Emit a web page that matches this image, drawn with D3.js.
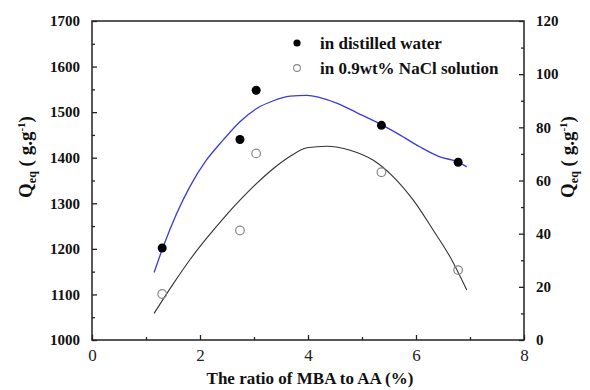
<!DOCTYPE html>
<html><head><meta charset="utf-8">
<script src="https://cdn.jsdelivr.net/npm/d3@7"></script>
<style>
body{margin:0;background:#fff;}
svg text{font-family:"Liberation Serif","DejaVu Serif",serif !important;}
</style></head>
<body><svg id="c" width="590" height="390" font-family="Liberation Serif, serif"></svg>
<script>
// data
const ratio = [1.3, 2.74, 3.04, 5.36, 6.78];
const waterQ = [1202, 1440, 1548, 1471, 1390];
const salineQ = [17.3, 41.2, 70.2, 63.1, 26.3];
// fitted curves
const waterFitX = [1.15,1.32,1.57,1.81,2.12,2.43,2.74,3.05,3.36,3.67,3.98,4.22,4.53,4.90,5.35,5.70,6.07,6.44,6.77,6.94];
const waterFitY = [1148,1205,1278,1336,1395,1439,1479,1508,1525,1535,1537,1532,1520,1499,1473,1450,1424,1402,1391,1380];
const salineFitX = [1.15,1.51,1.81,2.12,2.43,2.74,3.05,3.36,3.67,3.98,4.35,4.78,5.21,5.58,5.95,6.32,6.63,6.94];
const salineFitY = [10.0,21.3,30.1,38.2,45.7,52.6,58.9,64.5,69.1,72.3,72.9,71.4,67.6,61.4,52.6,41.3,31.3,18.8];
const xTicks = [0,2,4,6,8];
const leftTicks = [1000,1100,1200,1300,1400,1500,1600,1700];
const rightTicks = [0,20,40,60,80,100,120];
const legendLabels = ["in distilled water","in 0.9wt% NaCl solution"];

const FONT = "Liberation Serif, DejaVu Serif, serif";
const svg = d3.select("#c");
const L=92, R=524, T=21, B=340;
const x = d3.scaleLinear().domain([0,8]).range([L,R]);
const yL = d3.scaleLinear().domain([1000,1700]).range([B,T]);
const yR = d3.scaleLinear().domain([0,120]).range([B,T]);

function styleAxis(g){
  g.attr("font-family",FONT);
  g.select(".domain").remove();
  g.selectAll("line").attr("stroke","#222").attr("stroke-width",1.3);
}
// minor ticks
svg.append("g").attr("transform",`translate(0,${B})`)
  .call(d3.axisBottom(x).tickValues([1,3,5,7]).tickSize(-3).tickFormat(""))
  .call(styleAxis);
svg.append("g").attr("transform",`translate(${L},0)`)
  .call(d3.axisLeft(yL).tickValues(d3.range(1050,1700,100)).tickSize(-3).tickFormat(""))
  .call(styleAxis);
svg.append("g").attr("transform",`translate(${R},0)`)
  .call(d3.axisRight(yR).tickValues(d3.range(10,120,20)).tickSize(-3).tickFormat(""))
  .call(styleAxis);
// major ticks
const gx = svg.append("g").attr("transform",`translate(0,${B})`)
  .call(d3.axisBottom(x).tickValues(xTicks).tickSize(-5).tickPadding(10).tickFormat(d3.format("d")))
  .call(styleAxis);
gx.selectAll("text").attr("font-size",17).attr("fill","#222").attr("dy","0.75em").attr("y",8);
const gl = svg.append("g").attr("transform",`translate(${L},0)`)
  .call(d3.axisLeft(yL).tickValues(leftTicks).tickSize(-5).tickPadding(12).tickFormat(d3.format("d")))
  .call(styleAxis);
gl.selectAll("text").attr("font-size",15).attr("font-weight","bold").attr("fill","#111");
const gr = svg.append("g").attr("transform",`translate(${R},0)`)
  .call(d3.axisRight(yR).tickValues(rightTicks).tickSize(-5).tickPadding(12).tickFormat(d3.format("d")))
  .call(styleAxis);
gr.selectAll("text").attr("font-size",15).attr("font-weight","bold").attr("fill","#111");

// frame
svg.append("rect").attr("x",L).attr("y",T).attr("width",R-L).attr("height",B-T)
  .attr("fill","none").attr("stroke","#222").attr("stroke-width",1.5);

// curves
const lineW = d3.line().x((d,i)=>x(waterFitX[i])).y(d=>yL(d)).curve(d3.curveMonotoneX);
const lineS = d3.line().x((d,i)=>x(salineFitX[i])).y(d=>yR(d)).curve(d3.curveMonotoneX);
svg.append("path").attr("d",lineW(waterFitY)).attr("fill","none").attr("stroke","#3b3bd6").attr("stroke-width",1.3);
svg.append("path").attr("d",lineS(salineFitY)).attr("fill","none").attr("stroke","#333").attr("stroke-width",1.1);

// points
svg.append("g").selectAll("circle").data(ratio).join("circle")
  .attr("cx",d=>x(d)).attr("cy",(d,i)=>yL(waterQ[i])).attr("r",4.5).attr("fill","#000");
svg.append("g").selectAll("circle").data(ratio).join("circle")
  .attr("cx",d=>x(d)).attr("cy",(d,i)=>yR(salineQ[i])).attr("r",4.3)
  .attr("fill","none").attr("stroke","#888").attr("stroke-width",1.2);

// legend
const lg = svg.append("g").attr("font-family",FONT);
lg.append("circle").attr("cx",297).attr("cy",43).attr("r",3.6).attr("fill","#000");
lg.append("circle").attr("cx",297).attr("cy",68).attr("r",3.4).attr("fill","none").attr("stroke","#888").attr("stroke-width",1.1);
lg.selectAll("text").data(legendLabels).join("text")
  .attr("x",320).attr("y",(d,i)=>49+i*25).attr("font-size",17).attr("font-weight","bold").attr("fill","#111").text(d=>d);

// axis titles
svg.append("text").attr("x",(L+R)/2+2).attr("y",384).attr("text-anchor","middle").attr("font-family",FONT)
  .attr("font-size",17).attr("font-weight","bold").attr("fill","#111").text("The ratio of MBA to AA (%)");
function yTitle(cx){
  const t = svg.append("text").attr("transform",`translate(${cx},157) rotate(-90)`).attr("font-family",FONT)
    .attr("text-anchor","middle").attr("font-weight","bold").attr("fill","#111").attr("font-size",19);
  t.append("tspan").text("Q");
  t.append("tspan").attr("font-size",12).attr("dy",4).text("eq");
  t.append("tspan").attr("dy",-4).text(" ( g.g");
  t.append("tspan").attr("font-size",11).attr("dy",-7).text("-1");
  t.append("tspan").attr("dy",7).text(")");
}
yTitle(32);
yTitle(574);
</script></body></html>
